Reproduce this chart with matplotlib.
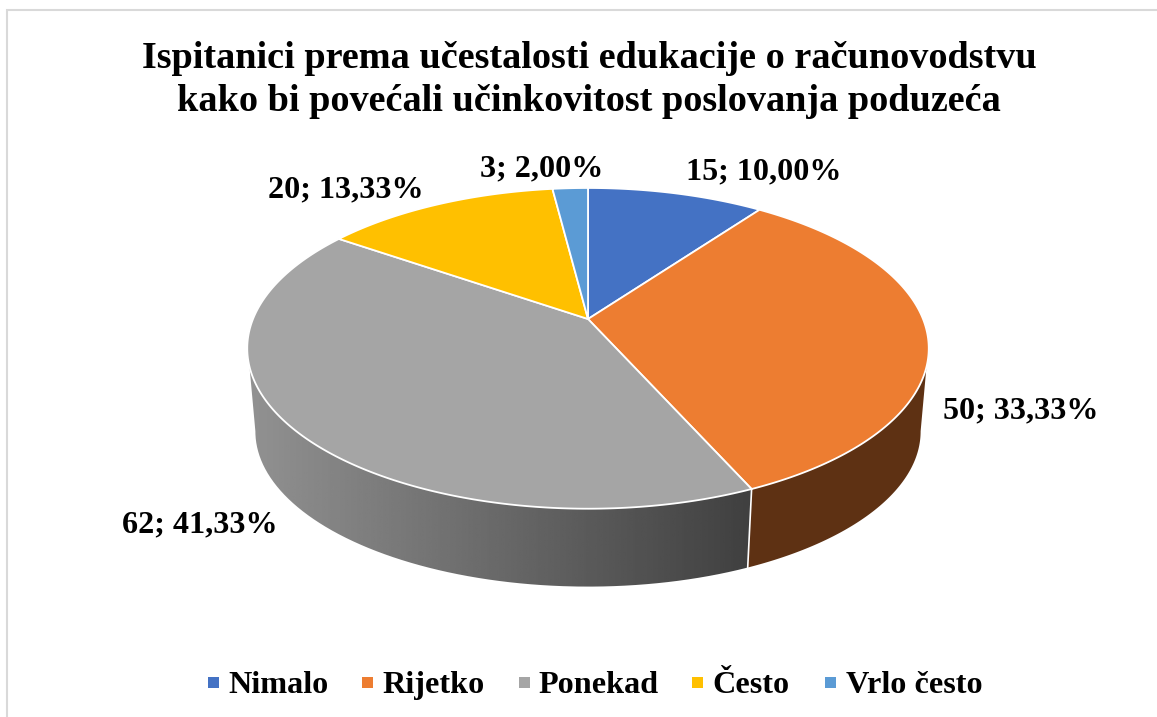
"""Pseudo-3D pie chart: respondents by frequency of accounting education."""

import numpy as np
import matplotlib
matplotlib.use("Agg")
import matplotlib.pyplot as plt
from matplotlib.patches import PathPatch, Polygon, Rectangle
from matplotlib.path import Path

plt.rcParams["font.family"] = ["Liberation Serif", "DejaVu Serif"]

# ── Data ───────────────────────────────────────────────────────────────────
title = ("Ispitanici prema učestalosti edukacije o računovodstvu\n"
         "kako bi povećali učinkovitost poslovanja poduzeća")
categories = ["Nimalo", "Rijetko", "Ponekad", "Često", "Vrlo često"]
counts = [15, 50, 62, 20, 3]
shares = [10.00, 33.33, 41.33, 13.33, 2.00]
colors = ["#4472C4", "#ED7D31", "#A5A5A5", "#FFC000", "#5B9BD5"]

# ── Layout, in image pixels ────────────────────────────────────────────────
label_xy = [(764, 172), (1021, 411), (200, 525), (346, 190), (542, 169)]
legend_square_x = [208, 362, 519, 692, 825]
legend_text_x = [228, 382, 538, 712, 846]
LEGEND_BASELINE = 693

CX, TOP_Y, BOTTOM_Y = 588, 319, 403
TOP_A, TOP_B = 335, 155
BOTTOM_A, BOTTOM_B = 327, 150
K = 0.183


def rim(t, a, b, y0):
    """Project the angle t (radians, counter-clockwise) onto an ellipse rim."""
    w = 1 + K * np.sin(t)
    return np.column_stack([CX + a * np.cos(t) / w, y0 - b * np.sin(t) / w])


def top_rim(t):
    return rim(t, TOP_A, TOP_B, TOP_Y)


def bottom_rim(t):
    return rim(t, BOTTOM_A, BOTTOM_B, BOTTOM_Y)


def side_poly(t0, t1, b0, b1):
    upper = top_rim(np.linspace(t0, t1, 200))
    lower = bottom_rim(np.linspace(b1, b0, 200))
    return np.vstack([upper, lower])


fig = plt.figure(figsize=(11.57, 7.17), dpi=100)
ax = fig.add_axes([0, 0, 1, 1])
ax.set_xlim(0, 1157)
ax.set_ylim(717, 0)
ax.axis("off")

# Chart frame: only the left and top edges fall inside the crop
ax.plot([7, 7, 1157], [717, 10, 10], color="#D9D9D9", lw=1.5, solid_joinstyle="miter")

# Slice boundaries, clockwise from 12 o'clock
edges = np.pi / 2 - 2 * np.pi * np.cumsum([0] + counts) / np.sum(counts)

# ── Side wall: only the two front slices show ──────────────────────────────
split = edges[2] + 2 * np.pi    # Rijetko / Ponekad boundary, lower front

grey_side = side_poly(np.radians(197), split, np.radians(190.5), split)
patch = PathPatch(Path(np.vstack([grey_side, grey_side[:1]])), fc="none", ec="none")
ax.add_patch(patch)
gradient = np.linspace(0.57, 0.25, 256).reshape(1, -1)
im = ax.imshow(gradient, extent=(248, 752, 600, 340), cmap="gray", vmin=0, vmax=1,
               aspect="auto", zorder=1)
im.set_clip_path(patch)
ax.set_xlim(0, 1157)
ax.set_ylim(717, 0)

orange_side = side_poly(split, np.radians(343), split, np.radians(349.5))
ax.add_patch(Polygon(orange_side, closed=True, fc="#5E3113", ec="none", zorder=1))

seam = np.vstack([top_rim(np.array([split])), bottom_rim(np.array([split]))])
ax.plot(seam[:, 0], seam[:, 1], color="white", lw=1.2, zorder=2)

# ── Top face ───────────────────────────────────────────────────────────────
for start, end, color in zip(edges[:-1], edges[1:], colors):
    arc = top_rim(np.linspace(start, end, 200))
    wedge = np.vstack([[CX, TOP_Y], arc])
    ax.add_patch(Polygon(wedge, closed=True, fc=color, ec="white", lw=1.3,
                         joinstyle="round", zorder=3))

# ── Text ───────────────────────────────────────────────────────────────────
ax.text(589, 80, title, ha="center", va="center", fontsize=27.5, fontweight="bold",
        linespacing=1.31, color="black")

for count, share, (x, y) in zip(counts, shares, label_xy):
    label = f"{count}; {share:.2f}%".replace(".", ",")
    ax.text(x, y, label, ha="center", va="center", fontsize=23.1, fontweight="bold")

# Legend drawn by hand so every entry sits on one baseline
for name, color, sx, tx in zip(categories, colors, legend_square_x, legend_text_x):
    ax.add_patch(Rectangle((sx, LEGEND_BASELINE - 16), 11, 11, fc=color, ec="none"))
    ax.text(tx, LEGEND_BASELINE, name, ha="left", va="baseline", fontsize=23.2,
            fontweight="bold")

fig.savefig("out.png", dpi=100, facecolor="white")
plt.close(fig)
